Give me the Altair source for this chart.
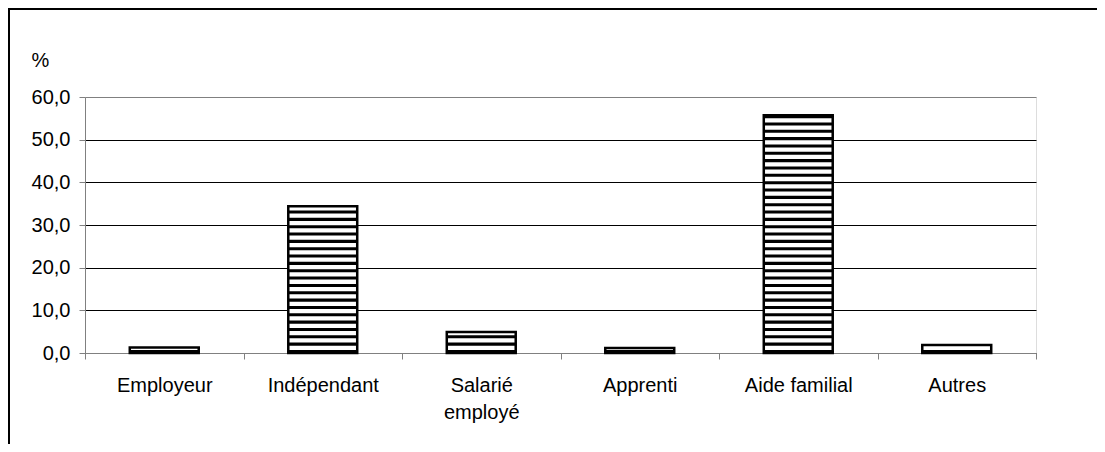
import altair as alt
import pandas as pd

categories = ["Employeur", "Indépendant", "Salarié employé", "Apprenti", "Aide familial", "Autres"]
values = [1.3, 34.4, 4.9, 1.2, 55.7, 1.9]
y_ticks = [0, 10, 20, 30, 40, 50, 60]

df = pd.DataFrame({"cat": categories, "val": values})

W, H = 951, 256
FONT = "Liberation Sans"
FS = 20
BAR_W = alt.RelativeBandSize(0.435)

x_enc = alt.X(
    "cat:N",
    sort=categories,
    scale=alt.Scale(paddingInner=0, paddingOuter=0),
    axis=alt.Axis(
        title=None,
        labelAngle=0,
        labelFont=FONT,
        labelFontSize=FS,
        labelColor="black",
        labelPadding=16,
        labelLineHeight=27,
        labelExpr="datum.label == 'Salarié employé' ? ['Salarié', 'employé'] : datum.label",
        tickBand="extent",
        tickSize=6,
        tickColor="#808080",
        domainColor="#808080",
        grid=False,
    ),
)

y_scale = alt.Scale(domain=[0, 60], nice=False)
y_axis = alt.Axis(
    values=y_ticks,
    labelExpr="replace(format(datum.value, '.1f'), '.', ',')",
    labelFont=FONT,
    labelFontSize=FS,
    labelColor="black",
    labelPadding=9,
    tickSize=6,
    tickColor="#808080",
    domainColor="#808080",
    grid=True,
    gridColor={"condition": {"test": "datum.value === 60", "value": "#808080"}, "value": "#000000"},
    gridOpacity=1,
    title="%",
    titleAngle=0,
    titleFont=FONT,
    titleFontSize=FS,
    titleFontWeight="normal",
    titleColor="black",
    titleAlign="left",
    titleBaseline="alphabetic",
    titleX=-54,
    titleY=-31,
)

base = alt.Chart(df)

fill_bars = base.mark_bar(color="white", width=BAR_W).encode(
    x=x_enc,
    y=alt.Y("val:Q", scale=y_scale, axis=y_axis),
)

stripes = (
    base.transform_calculate(s="sequence(0, datum.val, 1.72)")
    .transform_flatten(["s"])
    .transform_calculate(s2="min(datum.s + 0.72, datum.val)")
    .mark_bar(color="black", width=BAR_W)
    .encode(x=alt.X("cat:N", sort=categories), y=alt.Y("s:Q", scale=y_scale), y2="s2:Q")
)

outline = base.mark_bar(fillOpacity=0, stroke="black", strokeWidth=2.5, width=BAR_W).encode(
    x=alt.X("cat:N", sort=categories),
    y=alt.Y("val:Q", scale=y_scale),
)

frame_src = alt.Chart(alt.Data(values=[{"k": 1}]))
frame_left = frame_src.mark_rule(color="black", strokeWidth=2).encode(
    x=alt.value(-76), y=alt.value(-89), y2=alt.value(H + 95)
)
frame_top = frame_src.mark_rule(color="black", strokeWidth=2).encode(
    x=alt.value(-77), x2=alt.value(W + 70), y=alt.value(-88)
)

chart = (
    alt.layer(fill_bars, stripes, outline, frame_left, frame_top)
    .properties(
        width=W,
        height=H,
        autosize=alt.AutoSizeParams(type="none"),
        padding={"left": 77, "top": 89, "right": 61, "bottom": 91},
    )
    .configure_view(stroke="#808080", strokeWidth=1)
    .configure(background="white")
)

chart.save("out.html", embed_options={"renderer": "svg", "actions": False})
